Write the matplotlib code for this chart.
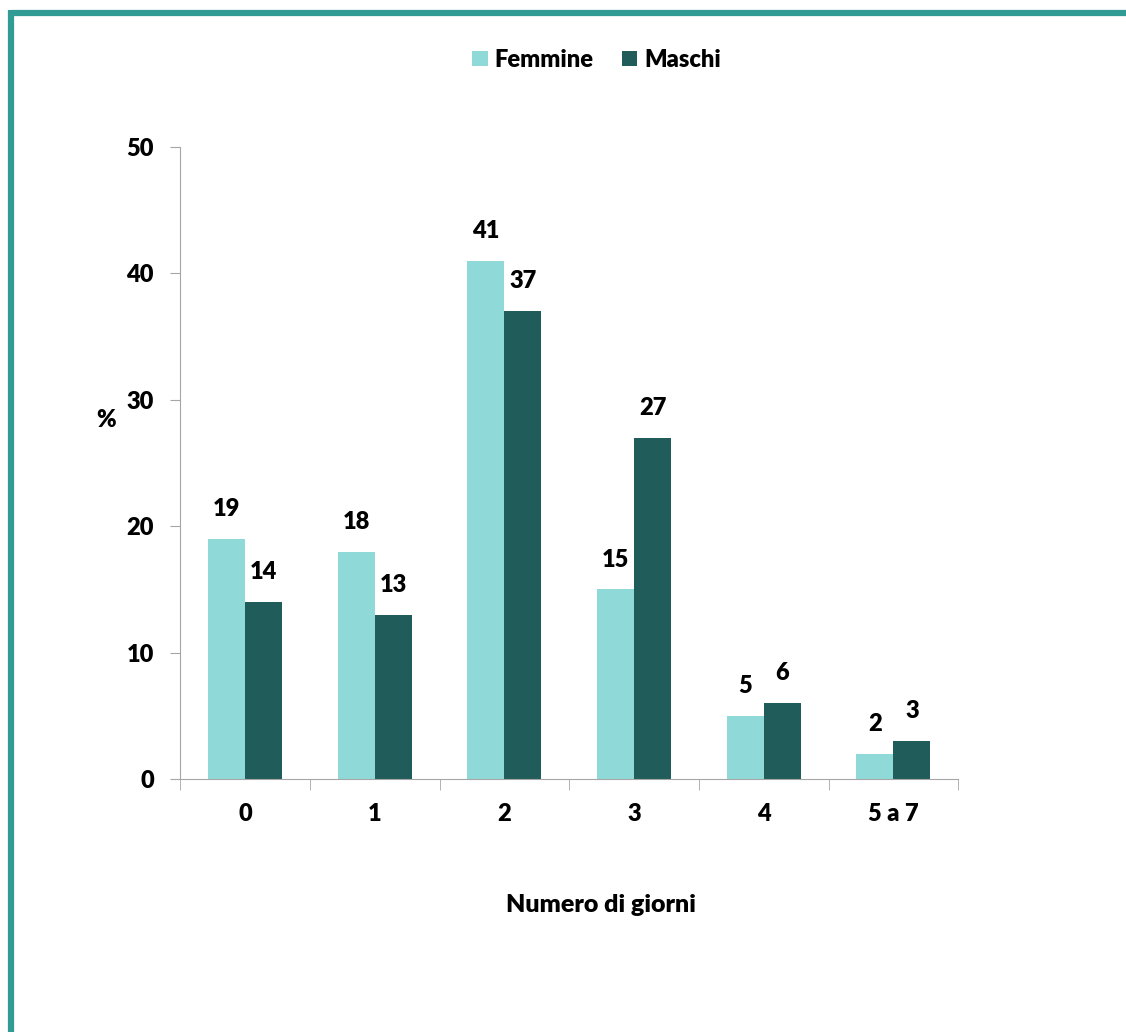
import numpy as np
import matplotlib
matplotlib.use("Agg")
import matplotlib.pyplot as plt
from matplotlib.lines import Line2D

categorie = ["0", "1", "2", "3", "4", "5 a 7"]
femmine = [19, 18, 41, 15, 5, 2]
maschi = [14, 13, 37, 27, 6, 3]

C_FEM = "#8fdad8"
C_MAS = "#1f5c5a"
C_BORDER = "#339b96"
C_AXIS = "#a6a6a6"
FS = 17
WT = "heavy"

plt.rcParams["font.family"] = ["Lato", "DejaVu Sans"]
plt.rcParams["font.weight"] = WT

fig = plt.figure(figsize=(11.26, 10.32), dpi=100)
ax = fig.add_axes([0.160, 0.245, 0.691, 0.6126])

x = np.arange(len(categorie))
w = 0.285
ax.bar(x - w / 2, femmine, w, color=C_FEM, label="Femmine")
ax.bar(x + w / 2, maschi, w, color=C_MAS, label="Maschi")

for xi, v in zip(x - w / 2, femmine):
    ax.text(xi, v + 1.5, str(v), ha="center", va="bottom", fontsize=FS, fontweight=WT)
for xi, v in zip(x + w / 2, maschi):
    ax.text(xi, v + 1.5, str(v), ha="center", va="bottom", fontsize=FS, fontweight=WT)

ax.set_xlim(-0.5, len(categorie) - 0.5)
ax.set_ylim(0, 50)
ax.set_yticks([0, 10, 20, 30, 40, 50])
ax.set_xticks(x)
ax.set_xticklabels(categorie)
ax.set_xticks(np.arange(-0.5, len(categorie)), minor=True)
ax.tick_params(axis="x", which="major", length=0, pad=17, labelsize=FS)
ax.tick_params(axis="x", which="minor", length=8, color=C_AXIS, direction="out")
ax.tick_params(axis="y", length=7, color=C_AXIS, direction="out", pad=12, labelsize=FS)
for lab in ax.get_xticklabels() + ax.get_yticklabels():
    lab.set_fontweight(WT)

for s in ["top", "right"]:
    ax.spines[s].set_visible(False)
ax.spines["left"].set_color(C_AXIS)
ax.spines["bottom"].set_color(C_AXIS)

fig.text(0.094, 0.593, "%", ha="center", va="center", fontsize=FS, fontweight=WT)
fig.text(0.534, 0.123, "Numero di giorni", ha="center", va="center", fontsize=18, fontweight=WT)

ax.legend(loc="center", bbox_to_anchor=(0.530, 0.942), bbox_transform=fig.transFigure,
          ncol=2, frameon=False, handlelength=0.65, handleheight=0.65,
          columnspacing=1.2, handletextpad=0.3, prop={"weight": WT, "size": FS})

# cornice in alto e a sinistra
fig.add_artist(Line2D([10.5 / 1126, 1], [1 - 13 / 1032, 1 - 13 / 1032], color=C_BORDER,
                      lw=4.5, transform=fig.transFigure, solid_capstyle="butt"))
fig.add_artist(Line2D([10.5 / 1126, 10.5 / 1126], [0, 1 - 10 / 1032], color=C_BORDER,
                      lw=4.5, transform=fig.transFigure, solid_capstyle="butt"))

fig.savefig("out.png", dpi=100)
